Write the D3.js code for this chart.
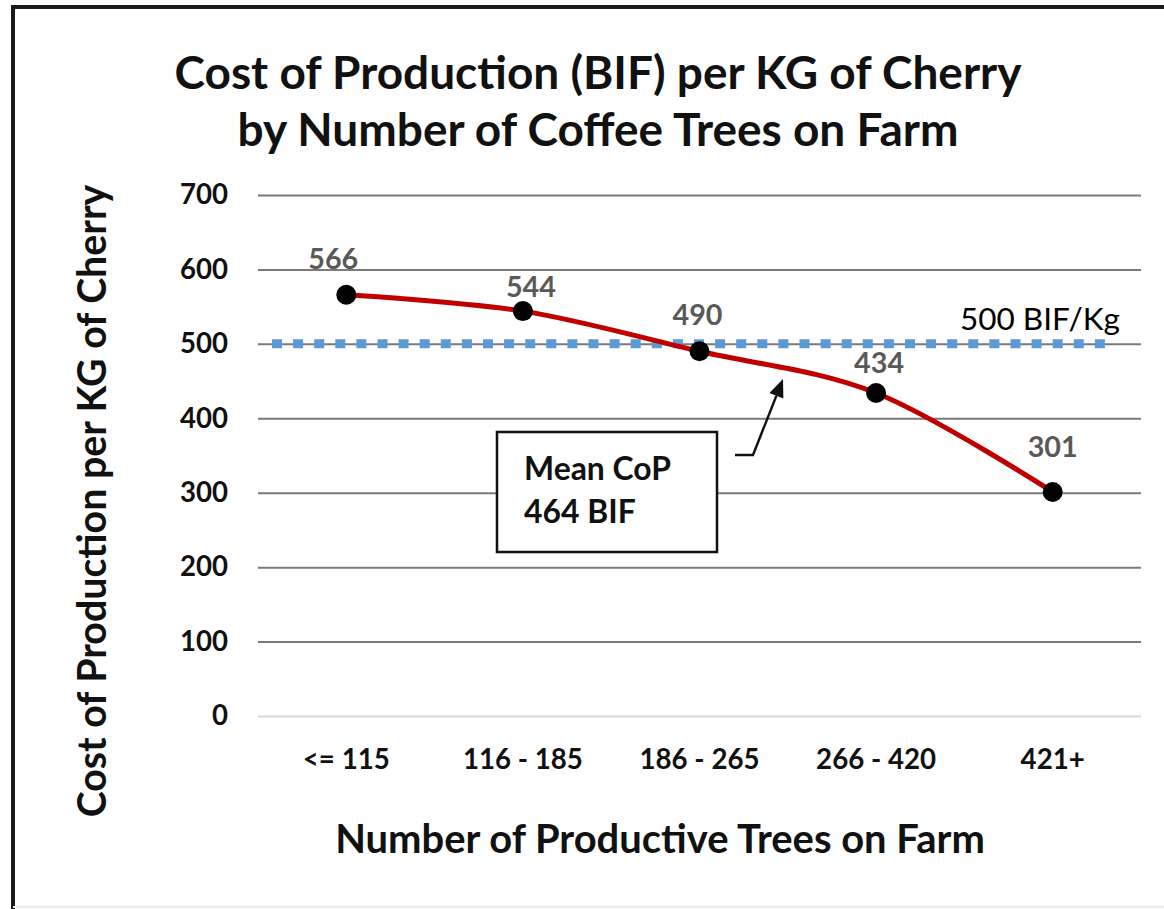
<!DOCTYPE html>
<html>
<head>
<meta charset="utf-8">
<script src="https://cdn.jsdelivr.net/npm/d3@7"></script>
<style>
  html, body { margin: 0; padding: 0; background: #fff; }
  svg { display: block; }
</style>
</head>
<body>
<svg id="chart" width="1164" height="909"></svg>
<script>
// ---------- data ----------
const categories = ["<= 115", "116 - 185", "186 - 265", "266 - 420", "421+"];
const costValues = [566, 544, 490, 434, 301];
const yTickValues = [0, 100, 200, 300, 400, 500, 600, 700];
const thresholdValue = 500;
const thresholdLabel = "500 BIF/Kg";
const meanLabelLines = ["Mean CoP", "464 BIF"];
const titleLines = ["Cost of Production (BIF) per KG of Cherry", "by Number of Coffee Trees on Farm"];
const yAxisTitle = "Cost of Production per KG of Cherry";
const xAxisTitle = "Number of Productive Trees on Farm";

// ---------- layout ----------
const FONT = "Lato, 'Open Sans', 'DejaVu Sans', sans-serif";
const plot = { left: 258, right: 1141, top: 195, bottom: 716 };
// hand-placed label nudges (px) relative to each marker
const labelNudge = [[-13, -26], [8, -14], [-2, -26], [3, -20], [0, -35]];

const svg = d3.select("#chart");

// measure helper: font size so that text reaches target width
const meas = svg.append("text").attr("x", -1000).attr("y", -1000).style("font-family", FONT);
function sizeFor(text, weight, width) {
  meas.style("font-weight", weight).style("font-size", "100px").text(text);
  const w = meas.node().getComputedTextLength();
  return 100 * width / w;
}

const x = d3.scaleBand().domain(categories).range([plot.left, plot.right]);
const cx = c => x(c) + x.bandwidth() / 2;
const y = d3.scaleLinear().domain([0, 700]).range([plot.bottom, plot.top]);

// outer frame
svg.append("path")
  .attr("d", "M13,909 V7 H1164")
  .attr("fill", "none").attr("stroke", "#1a1a1a").attr("stroke-width", 4);
svg.append("line").attr("x1", 13).attr("x2", 1164).attr("y1", 907).attr("y2", 907)
  .attr("stroke", "#ececec").attr("stroke-width", 2);

// title
const titleSize = sizeFor(titleLines[0], 700, 847);
svg.append("g").selectAll("text").data(titleLines).join("text")
  .attr("x", 598).attr("y", (d, i) => 89 + i * 57)
  .attr("text-anchor", "middle")
  .style("font-family", FONT).style("font-weight", 700)
  .style("font-size", titleSize + "px").attr("fill", "#111")
  .text(d => d);

// gridlines
const grid = svg.append("g").attr("transform", `translate(${plot.left},0)`)
  .call(d3.axisLeft(y).tickValues(yTickValues).tickSize(-(plot.right - plot.left)).tickFormat(""));
grid.select(".domain").remove();
grid.selectAll(".tick line")
  .attr("stroke", d => d === 0 ? "#d9d9d9" : "#7a7a7a")
  .attr("stroke-width", 2);

// y tick labels
const tickSize = sizeFor("700", 700, 48);
const yAx = svg.append("g").attr("transform", `translate(${plot.left},0)`)
  .call(d3.axisLeft(y).tickValues(yTickValues).tickSize(0).tickPadding(30));
yAx.select(".domain").remove();
yAx.selectAll("text")
  .style("font-family", FONT).style("font-weight", 700)
  .style("font-size", tickSize + "px").attr("fill", "#111");

// x tick labels
const xtSize = sizeFor("<= 115", 700, 87);
const xAx = svg.append("g").attr("transform", `translate(0,${plot.bottom})`)
  .call(d3.axisBottom(x).tickSize(0).tickPadding(0));
xAx.select(".domain").remove();
xAx.selectAll("text")
  .attr("dy", null).attr("y", 53)
  .style("font-family", FONT).style("font-weight", 700)
  .style("font-size", xtSize + "px").attr("fill", "#111");

// axis titles
svg.append("text")
  .attr("transform", `translate(106,501) rotate(-90)`)
  .attr("text-anchor", "middle")
  .style("font-family", FONT).style("font-weight", 700)
  .style("font-size", sizeFor(yAxisTitle, 700, 633) + "px").attr("fill", "#111")
  .text(yAxisTitle);
svg.append("text")
  .attr("x", 660).attr("y", 853).attr("text-anchor", "middle")
  .style("font-family", FONT).style("font-weight", 700)
  .style("font-size", sizeFor(xAxisTitle, 700, 650) + "px").attr("fill", "#111")
  .text(xAxisTitle);

// threshold dotted line
svg.append("line")
  .attr("x1", plot.left + 14).attr("x2", plot.right - 25)
  .attr("y1", y(thresholdValue)).attr("y2", y(thresholdValue))
  .attr("stroke", "#5B9BD5").attr("stroke-width", 9)
  .attr("stroke-dasharray", "10 11.1");
svg.append("text")
  .attr("x", 960).attr("y", y(thresholdValue) - 14)
  .style("font-family", FONT).style("font-weight", 400)
  .style("font-size", sizeFor(thresholdLabel, 400, 160) + "px").attr("fill", "#000")
  .text(thresholdLabel);

// cost line
const pts = categories.map((c, i) => [cx(c), y(costValues[i])]);
svg.append("path")
  .attr("d", d3.line().curve(d3.curveCardinal.tension(0))(pts))
  .attr("fill", "none").attr("stroke", "#C00000").attr("stroke-width", 5)
  .attr("stroke-linecap", "round");
svg.append("g").selectAll("circle").data(categories).join("circle")
  .attr("cx", d => cx(d)).attr("cy", (d, i) => y(costValues[i]))
  .attr("r", 10).attr("fill", "#000");

// data labels
const dlSize = sizeFor("566", 700, 50);
svg.append("g").selectAll("text").data(categories).join("text")
  .attr("x", (d, i) => cx(d) + labelNudge[i][0])
  .attr("y", (d, i) => y(costValues[i]) + labelNudge[i][1])
  .attr("text-anchor", "middle")
  .style("font-family", FONT).style("font-weight", 700)
  .style("font-size", dlSize + "px").attr("fill", "#595959")
  .text((d, i) => costValues[i]);

// mean CoP box + arrow
svg.append("rect")
  .attr("x", 497).attr("y", 432).attr("width", 220).attr("height", 120)
  .attr("fill", "#fff").attr("stroke", "#111").attr("stroke-width", 2.5);
const boxSize = sizeFor(meanLabelLines[0], 700, 147);
svg.append("g").selectAll("text").data(meanLabelLines).join("text")
  .attr("x", 524).attr("y", (d, i) => 480 + i * 43)
  .style("font-family", FONT).style("font-weight", 700)
  .style("font-size", boxSize + "px").attr("fill", "#111")
  .text(d => d);

// arrow: shaft + filled head
const tail = [753, 455], tip = [783, 379];
const ang = Math.atan2(tip[1] - tail[1], tip[0] - tail[0]);
const headLen = 18, headHalf = 7.5;
const base = [tip[0] - headLen * Math.cos(ang), tip[1] - headLen * Math.sin(ang)];
const nx = -Math.sin(ang), ny = Math.cos(ang);
svg.append("path")
  .attr("d", `M735,${tail[1]} L${tail[0]},${tail[1]} L${base[0]},${base[1]}`)
  .attr("fill", "none").attr("stroke", "#111").attr("stroke-width", 2.4);
svg.append("path")
  .attr("d", `M${tip[0]},${tip[1]} L${base[0] + nx * headHalf},${base[1] + ny * headHalf} L${base[0] - nx * headHalf},${base[1] - ny * headHalf} Z`)
  .attr("fill", "#111");

meas.remove();
</script>
</body>
</html>
